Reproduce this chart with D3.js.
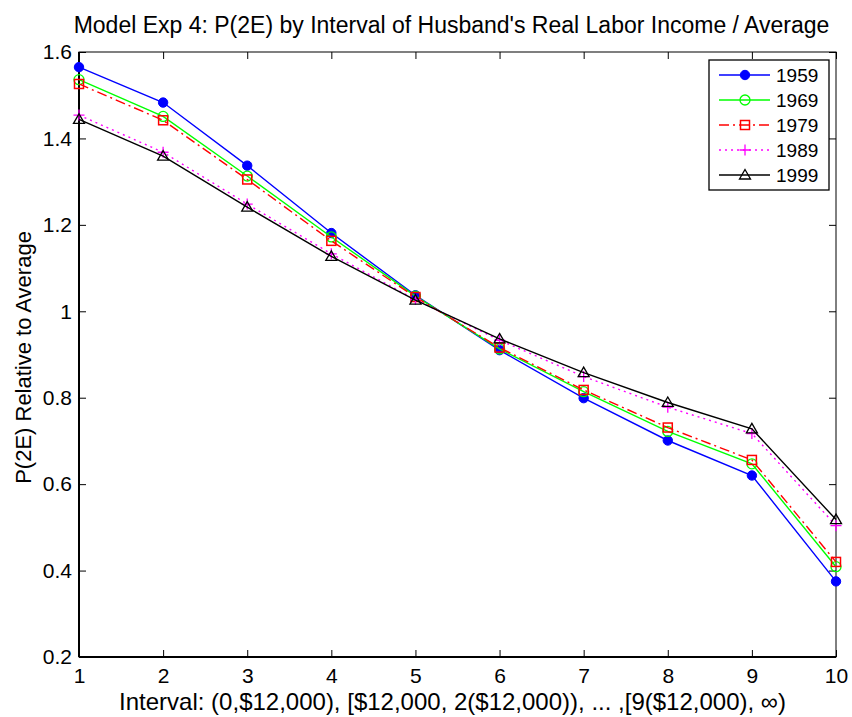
<!DOCTYPE html>
<html>
<head>
<meta charset="utf-8">
<script src="https://cdn.jsdelivr.net/npm/d3@7"></script>
<style>
  body { margin: 0; background: #fff; }
  text { font-family: "Liberation Sans", Arial, sans-serif; fill: #000; }
</style>
</head>
<body>
<div id="chart"></div>
<script>
const intervals = [1, 2, 3, 4, 5, 6, 7, 8, 9, 10]
const years = ['1959', '1969', '1979', '1989', '1999']
const v1959 = [1.565, 1.483, 1.337, 1.181, 1.037, 0.910, 0.799, 0.701, 0.620, 0.375]
const v1969 = [1.536, 1.451, 1.313, 1.172, 1.035, 0.913, 0.814, 0.722, 0.647, 0.409]
const v1979 = [1.526, 1.442, 1.305, 1.163, 1.033, 0.916, 0.818, 0.731, 0.656, 0.420]
const v1989 = [1.454, 1.368, 1.248, 1.133, 1.027, 0.933, 0.849, 0.778, 0.717, 0.504]
const v1999 = [1.444, 1.359, 1.241, 1.127, 1.026, 0.936, 0.858, 0.789, 0.728, 0.518]
const yTicks = [0.2, 0.4, 0.6, 0.8, 1, 1.2, 1.4, 1.6]

const series = [
  {name: years[0], values: v1959, color: '#0000ff', dash: null, marker: 'dot'},
  {name: years[1], values: v1969, color: '#00ff00', dash: null, marker: 'circle'},
  {name: years[2], values: v1979, color: '#ff0000', dash: '10,4,2,4', marker: 'square'},
  {name: years[3], values: v1989, color: '#ff00ff', dash: '2,4', marker: 'plus'},
  {name: years[4], values: v1999, color: '#000000', dash: null, marker: 'triangle'}
]

const width = 852, height = 717
const margin = {top: 52, right: 16, bottom: 60, left: 79}
const w = width - margin.left - margin.right
const h = height - margin.top - margin.bottom

const svg = d3.select('#chart').append('svg')
  .attr('width', width).attr('height', height)

const g = svg.append('g')
  .attr('transform', 'translate(' + margin.left + ',' + margin.top + ')')

const x = d3.scaleLinear().domain([1, 10]).range([0, w])
const y = d3.scaleLinear().domain([0.2, 1.6]).range([h, 0])

// Axes with inward ticks on all four sides
const tickLen = 7
g.append('g').attr('class', 'x axis')
  .attr('transform', 'translate(0,' + h + ')')
  .call(d3.axisBottom(x).tickValues(intervals).tickSize(-tickLen).tickPadding(11).tickFormat(d3.format('d')))
g.append('g').attr('class', 'y axis')
  .call(d3.axisLeft(y).tickValues(yTicks).tickSize(-tickLen).tickPadding(7).tickFormat((d) => d3.format('.1f')(d).replace(/\.0$/, '')))
g.append('g')
  .call(d3.axisTop(x).tickValues(intervals).tickSize(-tickLen).tickFormat(''))
g.append('g').attr('transform', 'translate(' + w + ',0)')
  .call(d3.axisRight(y).tickValues(yTicks).tickSize(-tickLen).tickFormat(''))

g.selectAll('.domain').remove()
g.selectAll('.tick line').attr('stroke', '#000').attr('stroke-width', 1)
g.selectAll('.tick text').style('font-size', '21px')
g.append('rect').attr('width', w).attr('height', h)
  .attr('fill', 'none').attr('stroke', '#000').attr('stroke-width', 1)
// heavier left and bottom spines
g.append('line').attr('x1', 0).attr('x2', 0).attr('y1', 0).attr('y2', h).attr('stroke', '#000').attr('stroke-width', 2)
g.append('line').attr('x1', 0).attr('x2', w).attr('y1', h).attr('y2', h).attr('stroke', '#000').attr('stroke-width', 2)

// Lines
const line = d3.line().x((d, i) => x(intervals[i])).y((d) => y(d))

const drawMarker = (sel, type, color) => {
  if (type === 'dot') {
    sel.append('circle').attr('r', 4.7).attr('fill', color).attr('stroke', color)
  } else if (type === 'circle') {
    sel.append('circle').attr('r', 5).attr('fill', 'none').attr('stroke', color).attr('stroke-width', 1.3)
  } else if (type === 'square') {
    sel.append('rect').attr('x', -4.5).attr('y', -4.5).attr('width', 9).attr('height', 9)
      .attr('fill', 'none').attr('stroke', color).attr('stroke-width', 1.5)
  } else if (type === 'plus') {
    sel.append('path').attr('d', 'M-5.5,0H5.5M0,-5.5V5.5').attr('stroke', color).attr('stroke-width', 1.3)
  } else if (type === 'triangle') {
    sel.append('path').attr('d', 'M0,-5.5L5.5,4L-5.5,4Z').attr('fill', 'none').attr('stroke', color).attr('stroke-width', 1.3)
  }
}

series.forEach((s) => {
  g.append('path').datum(s.values)
    .attr('d', line)
    .attr('fill', 'none')
    .attr('stroke', s.color)
    .attr('stroke-width', 1.4)
    .attr('stroke-dasharray', s.dash)
  s.values.forEach((v, i) => {
    const m = g.append('g').attr('transform', 'translate(' + x(intervals[i]) + ',' + y(v) + ')')
    drawMarker(m, s.marker, s.color)
  })
})

// Legend
const legend = svg.append('g').attr('transform', 'translate(709,60)')
legend.append('rect').attr('width', 120).attr('height', 130)
  .attr('fill', '#fff').attr('stroke', '#000').attr('stroke-width', 1.3)
series.forEach((s, i) => {
  const row = legend.append('g').attr('transform', 'translate(0,' + (15 + i * 25) + ')')
  row.append('line').attr('x1', 10).attr('x2', 61).attr('y1', 0).attr('y2', 0)
    .attr('stroke', s.color).attr('stroke-width', 1.4).attr('stroke-dasharray', s.dash)
  drawMarker(row.append('g').attr('transform', 'translate(36,0)'), s.marker, s.color)
  row.append('text').attr('x', 67).attr('y', 7).style('font-size', '19px').text(s.name)
})

// Title and labels
svg.append('text')
  .attr('x', margin.left + w / 2 - 6).attr('y', 33)
  .attr('text-anchor', 'middle').style('font-size', '23px')
  .text("Model Exp 4: P(2E) by Interval of Husband's Real Labor Income / Average")

svg.append('text')
  .attr('x', margin.left + w / 2 - 5).attr('y', 710)
  .attr('text-anchor', 'middle').style('font-size', '24px')
  .text('Interval: (0,$12,000), [$12,000, 2($12,000)), ... ,[9($12,000), \u221e)')

svg.append('text')
  .attr('transform', 'translate(31,' + (margin.top + h / 2 + 3) + ') rotate(-90)')
  .attr('text-anchor', 'middle').style('font-size', '22px')
  .text('P(2E) Relative to Average')
</script>
</body>
</html>
